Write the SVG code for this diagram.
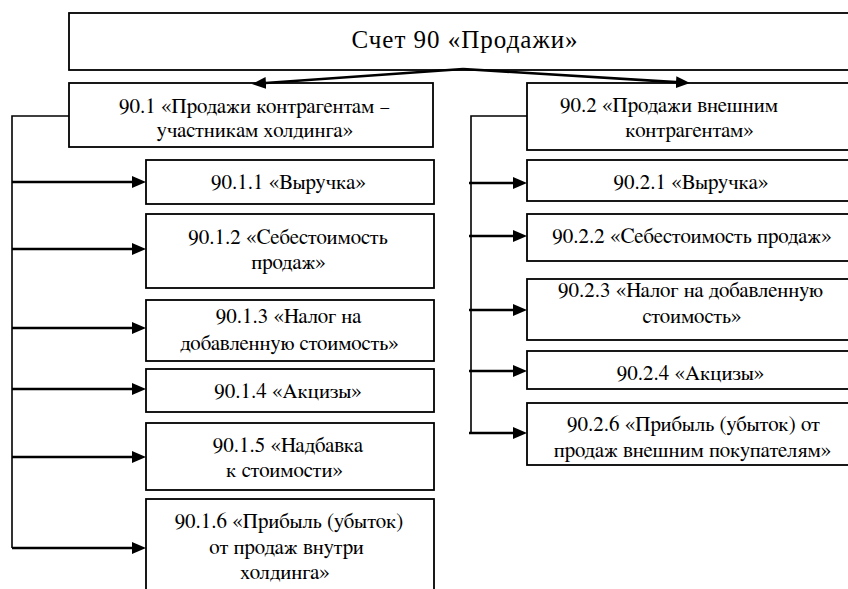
<svg xmlns="http://www.w3.org/2000/svg" width="848" height="589" viewBox="0 0 848 589">
<style>
.box{fill:#fff;stroke:#000;stroke-width:1.8}
.arr{fill:none;stroke:#000;stroke-width:2.6}
.bus{fill:none;stroke:#000;stroke-width:1.6}
</style>
<defs>
<marker id="ah" markerUnits="userSpaceOnUse" markerWidth="14" markerHeight="12" refX="4" refY="6" orient="auto">
<path d="M0,0 L14,6 L0,12 z" fill="#000"/>
</marker>
</defs>
<rect width="848" height="589" fill="#fff"/>
<g id="n90">
<rect class="box" x="69" y="13" width="792" height="57"/>
<text font-family="Liberation Serif" font-size="25" letter-spacing="1" text-anchor="middle" x="465" y="48">Счет 90 «Продажи»</text>
</g>
<g font-family="FreeSerif, Liberation Serif, serif" font-size="21" text-anchor="middle">
<g id="n901">
<rect class="box" x="69" y="83" width="364" height="64"/>
<text x="254.5" y="113">90.1 «Продажи контрагентам –</text>
<text x="255" y="137">участникам холдинга»</text>
</g>
<g id="n902">
<rect class="box" x="527" y="83" width="330" height="67"/>
<text x="669" y="112">90.2 «Продажи внешним</text>
<text x="689.5" y="137">контрагентам»</text>
</g>
<g id="n9011">
<rect class="box" x="146" y="160" width="288" height="44"/>
<text x="288.5" y="189">90.1.1 «Выручка»</text>
</g>
<g id="n9012">
<rect class="box" x="146" y="214" width="288" height="74"/>
<text x="288" y="244">90.1.2 «Себестоимость</text>
<text x="288.5" y="269">продаж»</text>
</g>
<g id="n9013">
<rect class="box" x="146" y="300" width="288" height="61"/>
<text x="288.5" y="323">90.1.3 «Налог на</text>
<text x="289.5" y="350">добавленную стоимость»</text>
</g>
<g id="n9014">
<rect class="box" x="146" y="369" width="288" height="43"/>
<text x="288" y="398">90.1.4 «Акцизы»</text>
</g>
<g id="n9015">
<rect class="box" x="146" y="423" width="288" height="67"/>
<text x="288" y="452">90.1.5 «Надбавка</text>
<text x="284.5" y="477">к стоимости»</text>
</g>
<g id="n9016">
<rect class="box" x="146" y="499" width="288" height="110"/>
<text x="289" y="528">90.1.6 «Прибыль (убыток)</text>
<text x="286.5" y="554">от продаж внутри</text>
<text x="285" y="579">холдинга»</text>
</g>
<g id="n9021">
<rect class="box" x="527" y="160" width="330" height="41"/>
<text x="691" y="189">90.2.1 «Выручка»</text>
</g>
<g id="n9022">
<rect class="box" x="527" y="214" width="330" height="47"/>
<text x="692" y="243">90.2.2 «Себестоимость продаж»</text>
</g>
<g id="n9023">
<rect class="box" x="527" y="279" width="330" height="61"/>
<text x="690.5" y="297">90.2.3 «Налог на добавленную</text>
<text x="692" y="323">стоимость»</text>
</g>
<g id="n9024">
<rect class="box" x="527" y="351" width="330" height="38"/>
<text x="690.5" y="380">90.2.4 «Акцизы»</text>
</g>
<g id="n9026">
<rect class="box" x="527" y="403" width="330" height="62"/>
<text x="693.5" y="431">90.2.6 «Прибыль (убыток) от</text>
<text x="692.5" y="457">продаж внешним покупателям»</text>
</g>
</g>
<g id="connectors">
<path class="arr" d="M463,69 L262,83.3" marker-end="url(#ah)"/>
<path class="arr" d="M463,69 L680,82.4" marker-end="url(#ah)"/>
<path class="bus" d="M69,116 H12 V548"/>
<path class="bus" d="M527,116 H471 V433"/>
<path class="arr" d="M12,182 H136" marker-end="url(#ah)"/>
<path class="arr" d="M12,249 H136" marker-end="url(#ah)"/>
<path class="arr" d="M12,328 H136" marker-end="url(#ah)"/>
<path class="arr" d="M12,389 H136" marker-end="url(#ah)"/>
<path class="arr" d="M12,457 H136" marker-end="url(#ah)"/>
<path class="arr" d="M12,548 H136" marker-end="url(#ah)"/>
<path class="arr" d="M469,183 H517" marker-end="url(#ah)"/>
<path class="arr" d="M469,236 H517" marker-end="url(#ah)"/>
<path class="arr" d="M469,310 H517" marker-end="url(#ah)"/>
<path class="arr" d="M469,371 H517" marker-end="url(#ah)"/>
<path class="arr" d="M469,433 H517" marker-end="url(#ah)"/>
</g>
</svg>
